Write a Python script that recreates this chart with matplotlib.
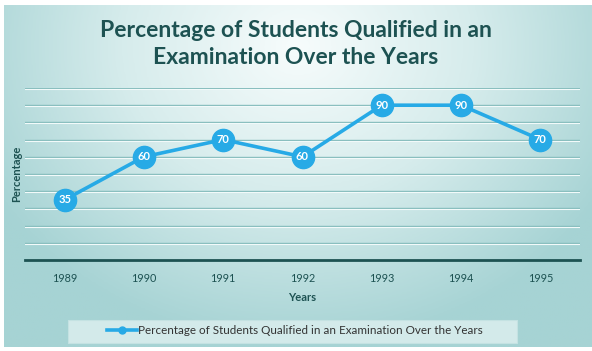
import numpy as np
import matplotlib
matplotlib.use("Agg")
import matplotlib.pyplot as plt
from matplotlib.colors import LinearSegmentedColormap
from matplotlib.patches import Rectangle

years = ["1989", "1990", "1991", "1992", "1993", "1994", "1995"]
percent = [35, 60, 70, 60, 90, 90, 70]
series_name = "Percentage of Students Qualified in an Examination Over the Years"
title = "Percentage of Students Qualified in an\nExamination Over the Years"

plt.rcParams["font.family"] = ["Lato", "DejaVu Sans"]
dark = "#1d5252"
blue = "#27aae6"

fig = plt.figure(figsize=(5.92, 3.51), dpi=100)
fig.patch.set_facecolor("white")

# background gradient panel
bg = fig.add_axes([4 / 592, 4 / 351, 588 / 592, 342 / 351], zorder=0)
yy, xx = np.mgrid[0:1:200j, 0:1:300j]
r = np.sqrt(((xx - 0.5) / 0.75) ** 2 + ((yy - 0.12) / 1.1) ** 2)
cmap = LinearSegmentedColormap.from_list("bgc", ["#f7fcfc", "#d6ecec", "#a6d3d4"])
bg.imshow(r, cmap=cmap, aspect="auto", extent=[0, 1, 0, 1], origin="upper", vmin=0, vmax=0.8)
bg.axis("off")

ax = fig.add_axes([25 / 592, 91 / 351, 555 / 592, 172 / 351], zorder=1)
ax.set_facecolor("none")
x = np.arange(len(years))
for v in range(10, 101, 10):
    ax.axhline(v, color="#84bcbc", lw=1.0, zorder=1)
    ax.axhline(v - 0.6, color="#f2fafa", lw=0.8, zorder=1)
ax.plot(x, percent, color=blue, lw=2.6, marker="o", markersize=16,
        markerfacecolor=blue, markeredgecolor=blue, zorder=3, label=series_name)
for xi, v in zip(x, percent):
    ax.text(xi, v, str(v), ha="center", va="center", color="white",
            fontsize=8, fontweight="bold", zorder=4)

ax.set_xlim(-0.5, len(years) - 0.5)
ax.set_ylim(0, 100)
ax.set_xticks(x)
ax.set_xticklabels(years, fontsize=7.8, color=dark)
ax.set_yticks([])
ax.tick_params(axis="x", length=0, pad=9)
for s in ["top", "right", "left"]:
    ax.spines[s].set_visible(False)
ax.spines["bottom"].set_color(dark)
ax.spines["bottom"].set_linewidth(2)
ax.set_xlabel("Years", fontsize=8, fontweight="bold", color=dark, labelpad=6)
ax.set_ylabel("Percentage", fontsize=8, fontweight="bold", color=dark, labelpad=2)

fig.text(0.5, 1 - 44 / 351, title, ha="center", va="center", fontsize=16.5,
         fontweight="bold", color=dark, linespacing=1.35)

# legend panel
fig.patches.append(Rectangle((68 / 592, 1 - 343 / 351), 449 / 592, 23 / 351,
                             transform=fig.transFigure, facecolor="#d3eaea",
                             edgecolor="#c4e2e2", lw=0.8, zorder=1))
leg = fig.legend(loc="center", bbox_to_anchor=(295 / 592, 1 - 331 / 351),
                 fontsize=8.4, frameon=False, handlelength=2.6, handletextpad=0.1,
                 labelcolor="#333333")
for h in leg.legend_handles:
    h.set_markersize(5)

fig.savefig("out.png", dpi=100)
